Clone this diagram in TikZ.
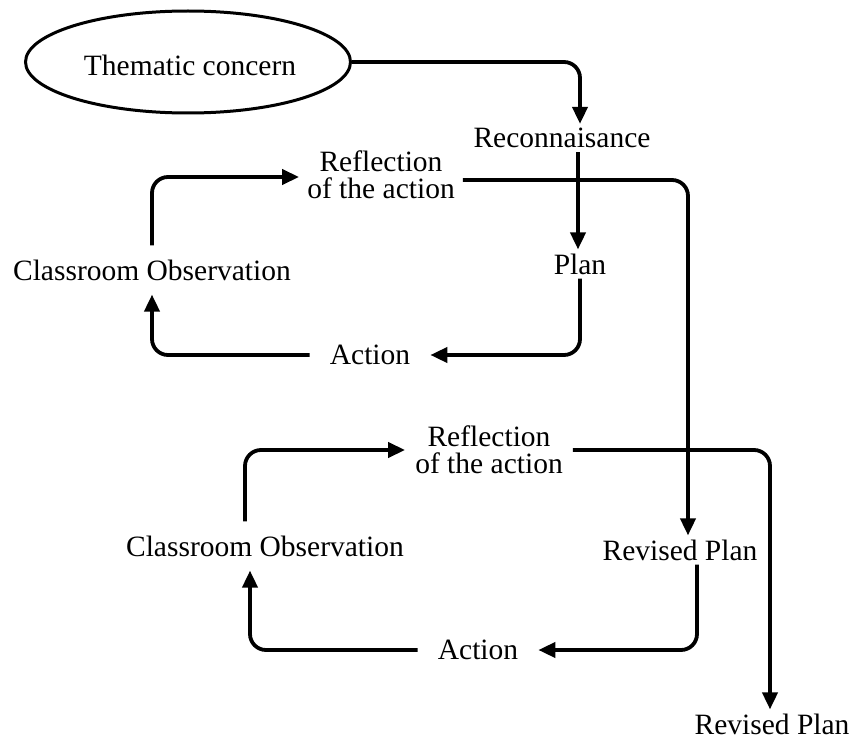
\documentclass[tikz,border=0pt]{standalone}
\usepackage{fontspec}
\setmainfont{Liberation Serif}
\usetikzlibrary{arrows.meta,shapes.geometric}
\begin{document}
\begin{tikzpicture}[x=1pt,y=-1pt,
  lbl/.style={font=\fontsize{29.5}{29.5}\selectfont, inner xsep=6pt, inner ysep=4pt, align=center},
  conn/.style={line width=3.8pt, rounded corners=16pt, -{Triangle[length=17pt,width=15pt]}},
  oval/.style={ellipse, draw, line width=3pt, minimum width=325pt, minimum height=102pt}]
\useasboundingbox (0,0) rectangle (857,741);
\node[oval] (tc) at (188,62) {};
\node[font=\fontsize{29.5}{29.5}\selectfont] (tct) at (190,65) {Thematic concern};
\node[lbl] (rec) at (562,138) {Reconnaisance};
\node[lbl] (plan) at (580,264) {Plan};
\node[lbl, inner xsep=20pt] (act1) at (370,355) {Action};
\node[lbl, inner ysep=14pt] (obs1) at (152,270) {Classroom Observation};
\node[lbl, font=\fontsize{29.5}{27}\selectfont, inner xsep=8pt] (ref1) at (381,175) {Reflection\\of the action};
\node[lbl] (rp1) at (680,550) {Revised Plan};
\node[lbl, inner xsep=20pt] (act2) at (478,650) {Action};
\node[lbl, inner ysep=14pt] (obs2) at (265,546) {Classroom Observation};
\node[lbl, font=\fontsize{29.5}{27}\selectfont, inner xsep=10pt] (ref2) at (489,450) {Reflection\\of the action};
\node[lbl] (rp2) at (772,724) {Revised Plan};

\draw[conn] (tc.east) -| ([xshift=18pt]rec.north);
\draw[conn] ([xshift=16pt]rec.south) -- ([xshift=-2pt]plan.north);
\draw[conn] (plan.south) |- (act1.east);
\draw[conn] (act1.west) -| (obs1.south);
\draw[conn] (obs1.north) |- ([yshift=-2pt]ref1.west);
\draw[conn] ([yshift=-5pt]ref1.east) -| ([xshift=8pt]rp1.north);
\draw[conn] ([xshift=17pt]rp1.south) |- (act2.east);
\draw[conn] (act2.west) -| ([xshift=-15pt]obs2.south);
\draw[conn] ([xshift=-20pt]obs2.north) |- (ref2.west);
\draw[conn] (ref2.east) -| ([xshift=-2pt]rp2.north);
\end{tikzpicture}
\end{document}
